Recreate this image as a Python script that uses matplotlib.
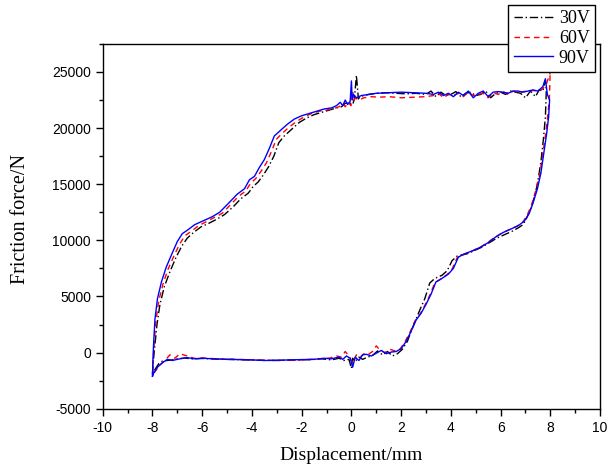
"""Friction force vs displacement hysteresis loops at three voltages."""
import matplotlib
matplotlib.use("Agg")
import matplotlib.pyplot as plt
from matplotlib.ticker import MultipleLocator

plt.rcParams["axes.unicode_minus"] = False

# 90V (blue, solid)
x_90 = [-8.00, -7.98, -7.95, -7.90, -7.80, -7.64, -7.45, -7.20, -7.00, -6.80,
        -6.60, -6.30, -6.00, -5.60, -5.30, -4.90, -4.60, -4.30, -4.10, -3.90,
        -3.70, -3.50, -3.30, -3.10, -2.90, -2.60, -2.30, -2.00, -1.70, -1.40,
        -1.10, -0.80, -0.60, -0.45, -0.35, -0.25, -0.15, -0.05, 0.00, 0.03,
        0.08, 0.20, 0.40, 0.70, 1.00, 1.50, 2.00, 2.50, 3.00, 3.30,
        3.50, 3.70, 3.90, 4.10, 4.30, 4.50, 4.70, 4.90, 5.10, 5.30,
        5.50, 5.70, 5.90, 6.10, 6.30, 6.50, 6.70, 6.90, 7.10, 7.30,
        7.50, 7.70, 7.80, 7.88, 7.97, 7.93, 7.85, 7.75, 7.62, 7.48,
        7.30, 7.15, 6.95, 6.70, 6.40, 6.10, 5.80, 5.50, 5.20, 4.90,
        4.50, 4.30, 4.10, 3.90, 3.60, 3.40, 3.20, 3.00, 2.80, 2.60,
        2.40, 2.20, 2.00, 1.80, 1.60, 1.40, 1.20, 1.00, 0.80, 0.60,
        0.45, 0.30, 0.15, 0.05, -0.05, -0.20, -0.35, -0.50, -0.80, -1.10,
        -1.50, -2.00, -2.50, -3.00, -3.50, -4.00, -4.50, -5.00, -5.50, -6.00,
        -6.30, -6.60, -6.90, -7.20, -7.40, -7.60, -7.80, -7.95, -8.00]
y_90 = [-2100, -500, 1000, 3000, 4800, 6300, 7600, 8900, 9900, 10600,
        10900, 11400, 11700, 12100, 12500, 13400, 14100, 14600, 15400, 15700,
        16500, 17200, 18200, 19300, 19700, 20300, 20800, 21100, 21300, 21500,
        21700, 21800, 22000, 22300, 22000, 22500, 22100, 22400, 24200, 22500,
        23000, 22700, 22900, 23000, 23100, 23150, 23200, 23150, 23100, 23000,
        23200, 22900, 23100, 22800, 23200, 22900, 23300, 22700, 23100, 23300,
        22800, 23200, 23250, 23200, 23100, 23300, 23300, 23200, 23300, 23400,
        23300, 23700, 24400, 23000, 22500, 21000, 19500, 18000, 16000, 14600,
        13300, 12400, 11700, 11300, 11000, 10700, 10300, 9800, 9400, 9100,
        8750, 8500, 7500, 7000, 6550, 6300, 5200, 4300, 3500, 2900,
        1900, 1000, 350, 100, 50, -100, 200, -50, -300, -150,
        -200, -700, -400, -1300, -500, -300, -600, -400, -550, -500,
        -600, -620, -650, -680, -700, -650, -620, -600, -560, -500,
        -550, -450, -550, -700, -600, -900, -1300, -1800, -2100]

# 60V (red, dashed)
x_60 = [-8.00, -7.97, -7.93, -7.86, -7.75, -7.58, -7.38, -7.12, -6.90, -6.70,
        -6.45, -6.15, -5.85, -5.50, -5.20, -4.85, -4.55, -4.25, -4.05, -3.85,
        -3.62, -3.42, -3.22, -3.02, -2.80, -2.50, -2.20, -1.90, -1.60, -1.30,
        -1.00, -0.70, -0.50, -0.35, -0.25, -0.12, -0.02, 0.05, 0.10, 0.15,
        0.30, 0.50, 0.80, 1.10, 1.50, 2.00, 2.50, 3.00, 3.30, 3.50,
        3.70, 3.90, 4.10, 4.30, 4.50, 4.70, 4.90, 5.10, 5.30, 5.50,
        5.70, 5.90, 6.10, 6.30, 6.50, 6.70, 6.90, 7.10, 7.30, 7.50,
        7.70, 7.85, 7.98, 8.00, 7.96, 7.88, 7.80, 7.70, 7.57, 7.42,
        7.25, 7.08, 6.90, 6.65, 6.35, 6.05, 5.75, 5.45, 5.15, 4.85,
        4.45, 4.25, 4.05, 3.85, 3.55, 3.35, 3.15, 2.95, 2.75, 2.55,
        2.35, 2.15, 1.95, 1.75, 1.55, 1.35, 1.15, 1.00, 0.85, 0.65,
        0.50, 0.35, 0.20, 0.05, -0.10, -0.25, -0.40, -0.60, -0.90, -1.20,
        -1.60, -2.00, -2.50, -3.00, -3.50, -4.00, -4.50, -5.00, -5.50, -6.00,
        -6.30, -6.60, -6.90, -7.10, -7.30, -7.50, -7.70, -7.90, -8.00]
y_60 = [-2000, -600, 900, 2800, 4600, 6100, 7400, 8700, 9700, 10400,
        10800, 11300, 11650, 12050, 12400, 13200, 13900, 14400, 15100, 15500,
        16200, 16900, 17900, 19000, 19500, 20100, 20600, 21000, 21300, 21500,
        21600, 21750, 21900, 22200, 21900, 22300, 22000, 23300, 22400, 22700,
        22500, 22700, 22800, 22750, 22800, 22700, 22750, 22800, 22900, 23100,
        22700, 23000, 22900, 23100, 22800, 23200, 22900, 23000, 23100, 22700,
        23150, 23000, 23250, 23000, 23300, 23150, 23250, 23300, 23350, 23300,
        23500, 24000, 24800, 25600, 22500, 20800, 19300, 17800, 15800, 14500,
        13200, 12300, 11650, 11250, 10950, 10650, 10250, 9750, 9350, 9050,
        8700, 8450, 7450, 6950, 6500, 6200, 5100, 4200, 3400, 2800,
        1800, 950, 300, 150, 300, 0, 200, 600, 100, -200,
        -100, -400, -200, -900, -300, 100, -400, -300, -500, -550,
        -600, -650, -660, -700, -680, -640, -610, -580, -540, -480,
        -520, -300, -100, -500, -200, -700, -1100, -1700, -2000]

# 30V (black, dash-dot)
x_30 = [-8.00, -7.96, -7.90, -7.82, -7.70, -7.52, -7.30, -7.05, -6.82, -6.60,
        -6.35, -6.05, -5.75, -5.40, -5.10, -4.75, -4.45, -4.15, -3.95, -3.75,
        -3.52, -3.32, -3.12, -2.92, -2.70, -2.40, -2.10, -1.80, -1.50, -1.20,
        -0.90, -0.60, -0.40, -0.25, -0.10, 0.05, 0.12, 0.20, 0.28, 0.35,
        0.50, 0.70, 1.00, 1.40, 1.80, 2.20, 2.60, 3.00, 3.20, 3.40,
        3.60, 3.80, 4.00, 4.20, 4.40, 4.60, 4.80, 5.00, 5.20, 5.40,
        5.60, 5.80, 6.00, 6.20, 6.40, 6.60, 6.80, 7.00, 7.20, 7.40,
        7.55, 7.70, 7.78, 7.84, 7.80, 7.72, 7.62, 7.50, 7.38, 7.22,
        7.05, 6.90, 6.70, 6.45, 6.15, 5.85, 5.55, 5.25, 4.95, 4.65,
        4.25, 4.05, 3.85, 3.65, 3.35, 3.15, 2.95, 2.75, 2.55, 2.40,
        2.25, 2.05, 1.85, 1.65, 1.45, 1.25, 1.05, 0.85, 0.65, 0.45,
        0.30, 0.15, 0.05, 0.00, -0.10, -0.30, -0.50, -0.80, -1.20, -1.60,
        -2.00, -2.50, -3.00, -3.50, -4.00, -4.50, -5.00, -5.50, -6.00, -6.40,
        -6.70, -7.00, -7.20, -7.40, -7.60, -7.75, -7.90, -8.00]
y_30 = [-1900, -600, 700, 2500, 4300, 5900, 7200, 8500, 9500, 10200,
        10700, 11200, 11500, 11900, 12300, 13000, 13700, 14200, 14800, 15200,
        15900, 16600, 17500, 18700, 19300, 19900, 20500, 20900, 21200, 21400,
        21600, 21800, 21900, 22200, 22300, 22100, 22600, 24700, 22600, 22800,
        22900, 23000, 23100, 23150, 23100, 23050, 23100, 23000, 23300, 22800,
        23200, 22900, 23000, 23250, 22800, 23100, 23200, 22900, 23000, 23300,
        22700, 23100, 23200, 23000, 23300, 23200, 23100, 22700, 23300, 22800,
        23400, 23300, 24200, 23500, 21000, 19000, 17000, 15300, 14000, 12900,
        12000, 11400, 11100, 10800, 10500, 10200, 9800, 9400, 9100, 8800,
        8600, 8200, 7300, 6900, 6600, 6200, 4800, 3800, 2700, 1900,
        1000, 300, -100, -300, 100, -200, 150, -250, -400, -600,
        -400, -800, -500, -1400, -600, -700, -500, -650, -550, -620,
        -640, -670, -700, -690, -660, -630, -600, -570, -520, -560,
        -480, -560, -650, -700, -750, -1000, -1500, -1900]

labels = ["30V", "60V", "90V"]

fig, ax = plt.subplots(figsize=(6.08, 4.72), dpi=100)
fig.subplots_adjust(left=0.169, right=0.987, bottom=0.134, top=0.907)

ax.plot(x_30, y_30, color="black", linestyle=(0, (6, 2, 1, 2)), linewidth=1.0, label=labels[0])
ax.plot(x_60, y_60, color="red", linestyle=(0, (4, 3)), linewidth=1.0, label=labels[1])
ax.plot(x_90, y_90, color="blue", linestyle="-", linewidth=1.0, label=labels[2])

ax.set_xlim(-10, 10)
ax.set_ylim(-5000, 27500)
ax.xaxis.set_major_locator(MultipleLocator(2))
ax.xaxis.set_minor_locator(MultipleLocator(1))
ax.yaxis.set_major_locator(MultipleLocator(5000))
ax.yaxis.set_minor_locator(MultipleLocator(2500))
ax.tick_params(which="both", direction="out", top=False, right=False)
ax.tick_params(which="major", length=5, width=1)
ax.tick_params(which="minor", length=3, width=1)
for lab in ax.get_xticklabels() + ax.get_yticklabels():
    lab.set_family("Liberation Sans")
    lab.set_fontsize(10)
for sp in ax.spines.values():
    sp.set_linewidth(1.0)

ax.set_xlabel("Displacement/mm", family="Liberation Serif", fontsize=14, labelpad=9)
ax.set_ylabel("Friction force/N", family="Liberation Serif", fontsize=14.5)
ax.yaxis.set_label_coords(-0.147, 0.52)

leg = ax.legend(loc="upper right", bbox_to_anchor=(0.99, 1.107), fancybox=False,
                edgecolor="black", framealpha=1, handlelength=2.2, labelspacing=0.15,
                handletextpad=0.3, borderpad=0.3, borderaxespad=0,
                prop={"family": "Liberation Serif", "size": 13})
leg.get_frame().set_linewidth(1.0)

plt.savefig("out.png", dpi=100)
